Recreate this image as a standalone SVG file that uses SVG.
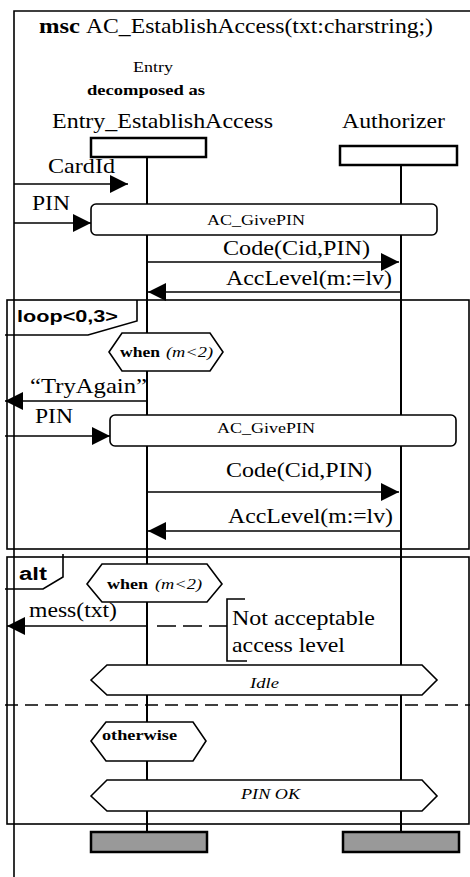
<svg xmlns="http://www.w3.org/2000/svg" width="470" height="877" viewBox="0 0 470 877">
<defs>
<marker id="ah" markerUnits="userSpaceOnUse" markerWidth="18" markerHeight="18" refX="18" refY="9" orient="auto">
<path d="M0,0 L18,9 L0,18 z" fill="#000"/>
</marker>
<style>
.ln{stroke:#000;stroke-width:1.6;fill:none}
.ll{stroke:#000;stroke-width:2;fill:none}
.fr{stroke:#000;stroke-width:1.6;fill:none}
.hd{stroke:#000;stroke-width:2.5;fill:#fff}
.ed{stroke:#000;stroke-width:2.5;fill:#999}
.cd{stroke:#000;stroke-width:1.6;fill:#fff}
.msg{stroke:#000;stroke-width:1.6;fill:none;marker-end:url(#ah)}
.t{font-family:"Liberation Serif","Times New Roman",serif;fill:#000}
.b{font-weight:bold}
.i{font-style:italic}
.a{font-family:"Liberation Sans",Arial,sans-serif;font-weight:bold;fill:#000}
.big{font-size:21px}
.sm{font-size:15px}
</style>
</defs>

<g id="msc-frame">
<path class="fr" d="M14,877 L14,11 L471,11"/>
<text class="t b big" x="39" y="33" textLength="41" lengthAdjust="spacingAndGlyphs">msc</text>
<text class="t big" x="86" y="33" textLength="347" lengthAdjust="spacingAndGlyphs">AC_EstablishAccess(txt:charstring;)</text>
</g>

<g id="loop-frame">
<rect class="fr" x="7" y="300" width="462" height="249"/>
<polyline class="fr" points="137,300 137,321 88,335 5,335"/>
<text class="a" font-size="17" x="17" y="322" textLength="101" lengthAdjust="spacingAndGlyphs">loop&lt;0,3&gt;</text>
</g>

<g id="alt-frame">
<rect class="fr" x="7" y="557" width="462" height="267"/>
<polyline class="fr" points="63,554 63,577 43,589 5,589"/>
<text class="a" font-size="18" x="19" y="580" textLength="28" lengthAdjust="spacingAndGlyphs">alt</text>
<line class="fr" x1="5" y1="705" x2="470" y2="705" stroke-dasharray="13 7"/>
</g>

<g id="lifeline-entry">
<text class="t sm" x="133" y="72" textLength="40" lengthAdjust="spacingAndGlyphs">Entry</text>
<text class="t b sm" x="87" y="95" textLength="118" lengthAdjust="spacingAndGlyphs">decomposed as</text>
<text class="t big" x="52" y="128" textLength="221" lengthAdjust="spacingAndGlyphs">Entry_EstablishAccess</text>
<line class="ll" x1="147" y1="157" x2="147" y2="832"/>
<rect class="hd" x="91" y="138" width="115" height="19"/>
<rect class="ed" x="91" y="832" width="116" height="20"/>
</g>

<g id="lifeline-authorizer">
<text class="t big" x="342" y="128" textLength="103" lengthAdjust="spacingAndGlyphs">Authorizer</text>
<line class="ll" x1="401" y1="165" x2="401" y2="832"/>
<rect class="hd" x="340" y="146" width="117" height="19"/>
<rect class="ed" x="343" y="832" width="116" height="20"/>
</g>

<g id="ref-givepin-1">
<rect class="cd" x="91" y="204" width="346" height="31" rx="5"/>
<text class="t sm" x="207" y="225" textLength="98" lengthAdjust="spacingAndGlyphs">AC_GivePIN</text>
</g>

<g id="ref-givepin-2">
<rect class="cd" x="110" y="415" width="346" height="31" rx="5"/>
<text class="t sm" x="217" y="433" textLength="98" lengthAdjust="spacingAndGlyphs">AC_GivePIN</text>
</g>

<g id="cond-when-1">
<polygon class="cd" points="109,352 122,333 210,333 223,352 210,371 122,371"/>
<text class="t b sm" x="120" y="357" textLength="40" lengthAdjust="spacingAndGlyphs">when</text>
<text class="t i sm" x="166" y="357" textLength="47" lengthAdjust="spacingAndGlyphs">(m&lt;2)</text>
</g>

<g id="cond-when-2">
<polygon class="cd" points="87,584 102,564 207,564 222,584 207,602 102,602"/>
<text class="t b sm" x="107" y="589" textLength="41" lengthAdjust="spacingAndGlyphs">when</text>
<text class="t i sm" x="155" y="589" textLength="47" lengthAdjust="spacingAndGlyphs">(m&lt;2)</text>
</g>

<g id="cond-idle">
<polygon class="cd" points="91,680 107,665 422,665 437,680 422,695 107,695"/>
<text class="t i sm" x="250" y="688" textLength="29" lengthAdjust="spacingAndGlyphs">Idle</text>
</g>

<g id="cond-otherwise">
<polygon class="cd" points="91,741 106,722 193,722 206,741 193,761 106,761"/>
<text class="t b sm" x="102" y="740" textLength="75" lengthAdjust="spacingAndGlyphs">otherwise</text>
</g>

<g id="cond-pinok">
<polygon class="cd" points="91,796 107,780 422,780 437,796 422,811 107,811"/>
<text class="t i sm" x="241" y="799" textLength="59" lengthAdjust="spacingAndGlyphs">PIN OK</text>
</g>

<g id="comment">
<polyline class="ln" points="245,599 227,599 227,661 247,661"/>
<text class="t big" x="232" y="625" textLength="143" lengthAdjust="spacingAndGlyphs">Not acceptable</text>
<text class="t big" x="232" y="652" textLength="113" lengthAdjust="spacingAndGlyphs">access level</text>
</g>

<g id="connectors">
<line class="msg" x1="14" y1="184" x2="128" y2="184"/>
<text class="t big" x="48" y="173" textLength="67" lengthAdjust="spacingAndGlyphs">CardId</text>
<line class="msg" x1="14" y1="223" x2="91" y2="223"/>
<text class="t big" x="32" y="210" textLength="38" lengthAdjust="spacingAndGlyphs">PIN</text>
<line class="msg" x1="147" y1="262" x2="399" y2="262"/>
<text class="t big" x="223" y="255" textLength="147" lengthAdjust="spacingAndGlyphs">Code(Cid,PIN)</text>
<line class="msg" x1="401" y1="292" x2="148" y2="292"/>
<text class="t big" x="226" y="285" textLength="166" lengthAdjust="spacingAndGlyphs">AccLevel(m:=lv)</text>
<line class="msg" x1="147" y1="401" x2="5" y2="401"/>
<text class="t big" x="30" y="393" textLength="117" lengthAdjust="spacingAndGlyphs">“TryAgain”</text>
<line class="msg" x1="5" y1="436" x2="110" y2="436"/>
<text class="t big" x="35" y="423" textLength="38" lengthAdjust="spacingAndGlyphs">PIN</text>
<line class="msg" x1="147" y1="492" x2="399" y2="492"/>
<text class="t big" x="226" y="477" textLength="146" lengthAdjust="spacingAndGlyphs">Code(Cid,PIN)</text>
<line class="msg" x1="401" y1="531" x2="148" y2="531"/>
<text class="t big" x="228" y="523" textLength="165" lengthAdjust="spacingAndGlyphs">AccLevel(m:=lv)</text>
<line class="msg" x1="147" y1="626" x2="7" y2="626"/>
<text class="t big" x="29" y="617" textLength="88" lengthAdjust="spacingAndGlyphs">mess(txt)</text>
<line class="ln" x1="157" y1="626" x2="227" y2="626" stroke-dasharray="19 7"/>
</g>
</svg>
